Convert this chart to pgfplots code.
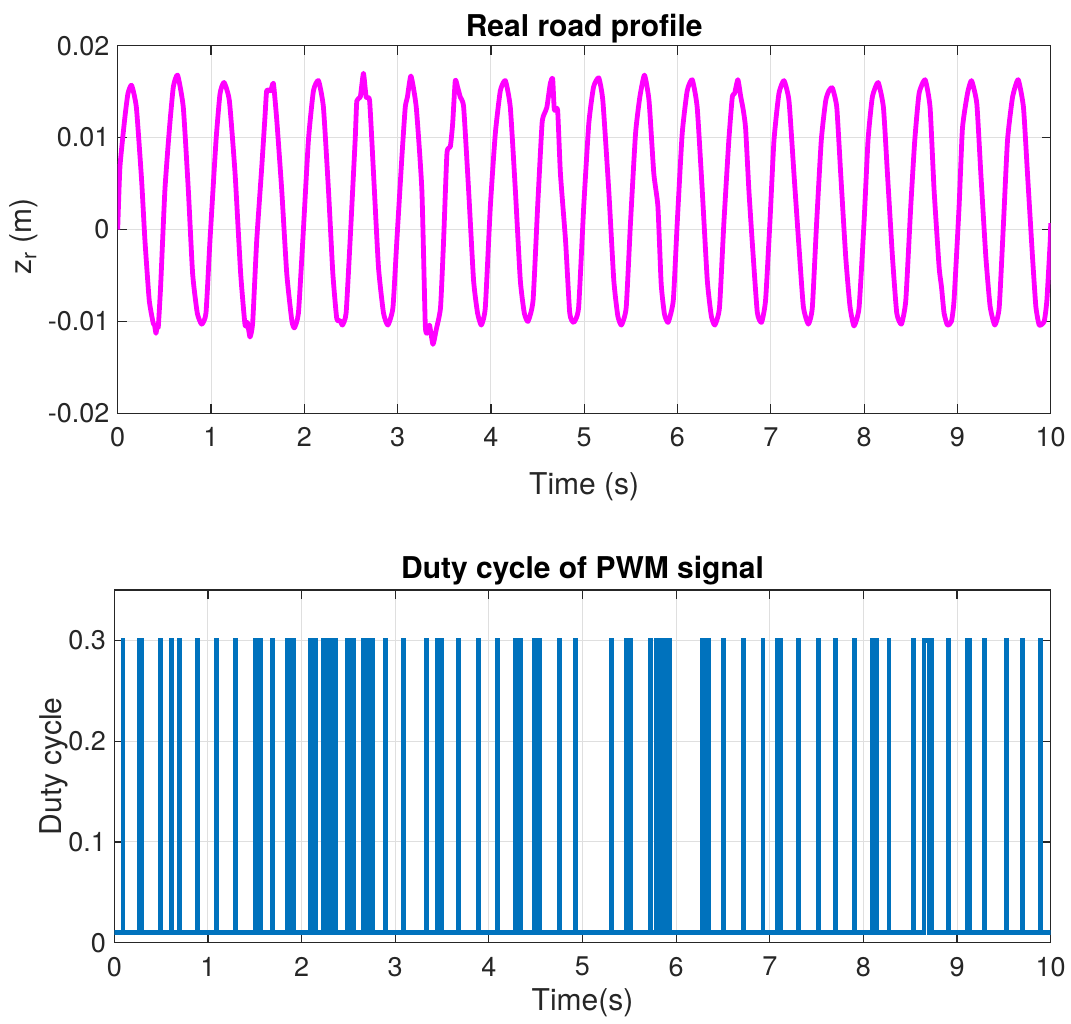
\documentclass[border=0pt]{standalone}
\usepackage{fontspec}
\setmainfont{TeX Gyre Heros}
\usepackage{pgfplots}
\pgfplotsset{compat=1.18}
\definecolor{axgray}{HTML}{262626}
\definecolor{gridgray}{HTML}{DFDFDF}
\definecolor{mblue}{HTML}{0072BD}
\definecolor{mmag}{HTML}{FF00FF}
\pgfplotsset{
  mstyle/.style={
    scale only axis,
    anchor=north west,
    axis line style={axgray, line width=0.6pt},
    every tick/.style={axgray, line width=0.6pt},
    major tick length=4.5pt,
    tick align=inside,
    scaled y ticks=false,
    scaled x ticks=false,
    xmin=0, xmax=10,
    xtick={0,1,...,10},
    xticklabels={0,1,2,3,4,5,6,7,8,9,10},
    grid=major,
    major grid style={gridgray, line width=0.5pt},
    tick label style={font=\fontsize{13.5}{16}\selectfont, text=axgray, inner sep=0pt},
    xticklabel style={anchor=north, yshift=-7pt},
    yticklabel style={anchor=east, xshift=-4pt},
    label style={font=\fontsize{15}{18}\selectfont, text=axgray},
    title style={font=\fontsize{15}{18}\selectfont\bfseries, text=black, inner sep=0pt, yshift=-6pt},
    clip=true,
  }
}
\begin{document}
\begin{tikzpicture}
\path[use as bounding box] (0,0) rectangle (535.5pt,-511.5pt);
% ---------------- top axis ----------------
\begin{axis}[mstyle,
  at={(58.85pt,-22.85pt)},
  width=466.5pt, height=183.8pt,
  ymin=-0.02, ymax=0.02,
  ytick={-0.02,-0.01,0,0.01,0.02},
  yticklabels={-0.02,-0.01,0,0.01,0.02},
  title={Real road profile},
  title style={at={(axis description cs:0.5,1.026)}, anchor=base},
  xlabel={Time (s)},
  xlabel style={at={(axis description cs:0.5,-0.222)}, anchor=base},
  ylabel={z\textsubscript{r} (m)},
  ylabel style={at={(axis description cs:-0.0919,0.481)}, anchor=base},
]
\addplot[mmag, line width=2.4pt, line join=round, smooth, tension=0.3] coordinates {
(0,0) (0.024,0.0068) (0.077,0.0122) (0.11,0.0148) (0.149,0.0157) (0.2,0.0133)
(0.256,0.0054) (0.292,-0.0012) (0.338,-0.0077) (0.381,-0.0102) (0.395,-0.0104)
(0.41,-0.0113) (0.425,-0.0104) (0.435,-0.0106) (0.46,-0.0062) (0.506,0.0043)
(0.553,0.0108) (0.596,0.0155) (0.642,0.0168) (0.703,0.0133) (0.757,0.0043)
(0.803,-0.0048) (0.853,-0.0091) (0.9,-0.0103) (0.946,-0.0091) (0.989,-0.0012)
(1.054,0.0097) (1.097,0.0148) (1.14,0.016) (1.197,0.014) (1.258,0.0061)
(1.318,-0.0048) (1.365,-0.0104) (1.39,-0.0101) (1.418,-0.0117) (1.447,-0.0101)
(1.49,-0.0012) (1.544,0.0068) (1.58,0.0125) (1.597,0.0151) (1.64,0.0151)
(1.669,0.0159) (1.705,0.0119) (1.758,0.0043) (1.812,-0.0048) (1.866,-0.0099)
(1.894,-0.0107) (1.937,-0.0091) (1.984,-0.0012) (2.044,0.0097) (2.098,0.0151)
(2.152,0.0162) (2.205,0.0133) (2.259,0.0043) (2.306,-0.0048) (2.348,-0.0097)
(2.384,-0.0099) (2.409,-0.0104) (2.448,-0.0091) (2.491,-0.0012) (2.545,0.0097)
(2.563,0.014) (2.6,0.0144) (2.634,0.017) (2.663,0.0144) (2.7,0.014)
(2.742,0.0061) (2.795,-0.0041) (2.849,-0.0091) (2.896,-0.0104) (2.95,-0.0085)
(2.992,-0.0012) (3.046,0.0079) (3.082,0.0133) (3.105,0.0144) (3.143,0.0167)
(3.2,0.0133) (3.26,0.0043) (3.296,-0.0102) (3.314,-0.0113) (3.342,-0.0104)
(3.379,-0.0125) (3.414,-0.0109) (3.46,-0.0085) (3.493,-0.0012) (3.529,0.0083)
(3.565,0.009) (3.59,0.0115) (3.618,0.0162) (3.643,0.0155) (3.672,0.0144)
(3.708,0.0133) (3.761,0.0043) (3.814,-0.0055) (3.857,-0.0091) (3.897,-0.0104)
(3.94,-0.0085) (3.994,0.0025) (4.047,0.0104) (4.101,0.0151) (4.155,0.0162)
(4.208,0.0133) (4.262,0.0043) (4.315,-0.0055) (4.358,-0.0091) (4.398,-0.01)
(4.452,-0.0077) (4.501,0.0025) (4.548,0.0115) (4.573,0.0126) (4.6,0.0133)
(4.637,0.0159) (4.662,0.0164) (4.68,0.013) (4.715,0.013) (4.745,0.0061)
(4.8,-0.0012) (4.845,-0.0091) (4.888,-0.0101) (4.94,-0.0085) (4.995,0.0025)
(5.049,0.0115) (5.1,0.0155) (5.156,0.0165) (5.2,0.014) (5.263,0.0043)
(5.317,-0.0055) (5.36,-0.0094) (5.399,-0.0104) (5.45,-0.0085) (5.496,0.0007)
(5.55,0.0104) (5.596,0.0144) (5.646,0.0168) (5.695,0.014) (5.746,0.0061)
(5.79,0.0025) (5.825,-0.0059) (5.86,-0.0092) (5.9,-0.0101) (5.955,-0.0077)
(5.997,0.0007) (6.05,0.0104) (6.104,0.0151) (6.158,0.0163) (6.211,0.0133)
(6.265,0.0043) (6.319,-0.0055) (6.362,-0.0094) (6.4,-0.0104) (6.45,-0.0085)
(6.497,0.0007) (6.55,0.0097) (6.587,0.0144) (6.612,0.0148) (6.647,0.0163)
(6.677,0.0145) (6.705,0.013) (6.73,0.011) (6.765,0.0043) (6.8,-0.0012)
(6.855,-0.009) (6.901,-0.0101) (6.944,-0.0077) (6.99,0.0007) (7.034,0.0097)
(7.087,0.0148) (7.141,0.0162) (7.195,0.014) (7.248,0.0061) (7.302,-0.0019)
(7.349,-0.0084) (7.402,-0.0103) (7.445,-0.0085) (7.491,0.0007) (7.541,0.0097)
(7.588,0.014) (7.623,0.0151) (7.66,0.0154) (7.707,0.0133) (7.749,0.0061)
(7.803,-0.003) (7.849,-0.0084) (7.892,-0.0105) (7.946,-0.0085) (7.999,0.0007)
(8.042,0.0097) (8.088,0.0144) (8.15,0.016) (8.207,0.0133) (8.25,0.0061)
(8.304,-0.003) (8.35,-0.0091) (8.4,-0.0103) (8.447,-0.0077) (8.5,0.0025)
(8.543,0.0097) (8.589,0.0148) (8.654,0.0163) (8.707,0.0133) (8.75,0.0043)
(8.804,-0.0041) (8.829,-0.0062) (8.857,-0.0091) (8.893,-0.0104) (8.936,-0.01)
(8.964,-0.0077) (9.018,0.0025) (9.054,0.011) (9.108,0.0148) (9.151,0.0162)
(9.208,0.0137) (9.251,0.0061) (9.305,-0.003) (9.351,-0.0084) (9.401,-0.0104)
(9.448,-0.0085) (9.494,0.0007) (9.537,0.0097) (9.591,0.0144) (9.651,0.0163)
(9.708,0.0133) (9.751,0.0061) (9.805,-0.003) (9.841,-0.0084) (9.877,-0.0104)
(9.93,-0.01) (9.959,-0.0077) (9.995,-0.0012) (10,0.0007)
};
\end{axis}
% ---------------- bottom axis ----------------
\begin{axis}[mstyle,
  at={(57.15pt,-295pt)},
  width=468.2pt, height=176.35pt,
  ymin=0, ymax=0.35,
  ytick={0,0.1,0.2,0.3},
  yticklabels={0,0.1,0.2,0.3},
  title={Duty cycle of PWM signal},
  title style={at={(axis description cs:0.5,1.033)}, anchor=base},
  xlabel={Time(s)},
  xlabel style={at={(axis description cs:0.5,-0.193)}, anchor=base},
  ylabel={Duty cycle},
  ylabel style={at={(axis description cs:-0.0569,0.5)}, anchor=base},
]
\addplot[mblue, line width=2.2pt, const plot mark left] coordinates {
(0,0.01)
(0.09,0.3)(0.095,0.01)
(0.27,0.3)(0.275,0.01)(0.29,0.3)(0.295,0.01)
(0.49,0.3)(0.495,0.01)
(0.61,0.3)(0.615,0.01)
(0.69,0.3)(0.695,0.01)
(0.89,0.3)(0.895,0.01)
(1.09,0.3)(1.095,0.01)
(1.29,0.3)(1.295,0.01)
(1.51,0.3)(1.515,0.01)(1.53,0.3)(1.535,0.01)(1.555,0.3)(1.56,0.01)
(1.69,0.3)(1.695,0.01)
(1.85,0.3)(1.855,0.01)(1.87,0.3)(1.875,0.01)(1.89,0.3)(1.895,0.01)(1.915,0.3)(1.92,0.01)
(2.09,0.3)(2.095,0.01)(2.11,0.3)(2.115,0.01)(2.13,0.3)(2.135,0.01)(2.15,0.3)(2.155,0.01)
(2.23,0.3)(2.235,0.01)(2.25,0.3)(2.255,0.01)(2.27,0.3)(2.275,0.01)(2.29,0.3)(2.295,0.01)
(2.31,0.3)(2.315,0.01)(2.33,0.3)(2.335,0.01)(2.35,0.3)(2.355,0.01)(2.365,0.3)(2.37,0.01)
(2.49,0.3)(2.495,0.01)(2.51,0.3)(2.515,0.01)(2.53,0.3)(2.535,0.01)(2.55,0.3)(2.555,0.01)
(2.655,0.3)(2.66,0.01)(2.685,0.3)(2.69,0.01)
(2.725,0.3)(2.73,0.01)(2.755,0.3)(2.76,0.01)
(2.89,0.3)(2.895,0.01)
(3.09,0.3)(3.095,0.01)
(3.33,0.3)(3.335,0.01)
(3.45,0.3)(3.455,0.01)(3.47,0.3)(3.475,0.01)(3.49,0.3)(3.495,0.01)
(3.67,0.3)(3.675,0.01)
(3.89,0.3)(3.895,0.01)
(4.09,0.3)(4.095,0.01)
(4.28,0.3)(4.285,0.01)(4.30,0.3)(4.305,0.01)(4.32,0.3)(4.325,0.01)(4.335,0.3)(4.34,0.01)
(4.485,0.3)(4.49,0.01)(4.50,0.3)(4.505,0.01)(4.52,0.3)(4.525,0.01)(4.54,0.3)(4.545,0.01)
(4.75,0.3)(4.755,0.01)
(4.92,0.3)(4.925,0.01)
(5.31,0.3)(5.315,0.01)
(5.47,0.3)(5.475,0.01)(5.49,0.3)(5.495,0.01)(5.51,0.3)(5.515,0.01)
(5.72,0.3)(5.725,0.01)
(5.79,0.3)(5.795,0.01)(5.81,0.3)(5.815,0.01)(5.83,0.3)(5.835,0.01)(5.85,0.3)(5.855,0.01)
(5.87,0.3)(5.875,0.01)(5.89,0.3)(5.895,0.01)(5.91,0.3)(5.915,0.01)(5.93,0.3)(5.935,0.01)
(6.28,0.3)(6.285,0.01)(6.30,0.3)(6.305,0.01)(6.32,0.3)(6.325,0.01)(6.34,0.3)(6.345,0.01)
(6.50,0.3)(6.505,0.01)
(6.72,0.3)(6.725,0.01)
(6.925,0.3)(6.93,0.01)
(7.08,0.3)(7.085,0.01)(7.10,0.3)(7.105,0.01)(7.115,0.3)(7.12,0.01)
(7.30,0.3)(7.305,0.01)
(7.52,0.3)(7.525,0.01)
(7.70,0.3)(7.705,0.01)
(7.905,0.3)(7.91,0.01)
(8.095,0.3)(8.10,0.01)(8.115,0.3)(8.12,0.01)(8.135,0.3)(8.14,0.01)
(8.27,0.3)(8.275,0.01)
(8.53,0.3)(8.535,0.01)
(8.65,0.3)(8.70,0.01)(8.705,0.3)(8.735,0.01)
(8.905,0.3)(8.91,0.01)
(9.11,0.3)(9.115,0.01)(9.13,0.3)(9.135,0.01)
(9.295,0.3)(9.30,0.01)
(9.53,0.3)(9.535,0.01)
(9.70,0.3)(9.705,0.01)
(9.885,0.3)(9.89,0.01)
(10,0.01)
};
\end{axis}
\end{tikzpicture}
\end{document}
